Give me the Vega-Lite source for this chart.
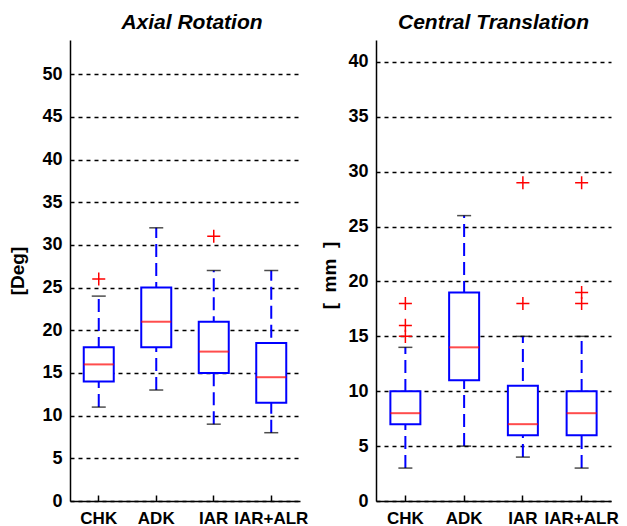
{
  "$schema": "https://vega.github.io/schema/vega-lite/v6.json",
  "background": "white",
  "padding": {"left": 8, "top": 12, "right": 5, "bottom": 2},
  "spacing": 12,
  "config": {
    "view": {"stroke": null},
    "axis": {"domainColor": "black", "domainWidth": 1.5, "tickColor": "black", "labelColor": "black", "titleColor": "black"},
    "title": {"font": "Liberation Sans", "fontSize": 21, "fontStyle": "italic", "fontWeight": "bold", "color": "black", "offset": 7}
  },
  "datasets": {
    "axial": [
      {"g": "CHK", "lo": 11, "q1": 14, "med": 16, "q3": 18, "hi": 24},
      {"g": "ADK", "lo": 13, "q1": 18, "med": 21, "q3": 25, "hi": 32},
      {"g": "IAR", "lo": 9, "q1": 15, "med": 17.5, "q3": 21, "hi": 27},
      {"g": "IAR+ALR", "lo": 8, "q1": 11.5, "med": 14.5, "q3": 18.5, "hi": 27}
    ],
    "axialOut": [
      {"g": "CHK", "v": 26},
      {"g": "IAR", "v": 31}
    ],
    "central": [
      {"g": "CHK", "lo": 3, "q1": 7, "med": 8, "q3": 10, "hi": 14},
      {"g": "ADK", "lo": 5, "q1": 11, "med": 14, "q3": 19, "hi": 26},
      {"g": "IAR", "lo": 4, "q1": 6, "med": 7, "q3": 10.5, "hi": 15},
      {"g": "IAR+ALR", "lo": 3, "q1": 6, "med": 8, "q3": 10, "hi": 15}
    ],
    "centralOut": [
      {"g": "CHK", "v": 15},
      {"g": "CHK", "v": 16},
      {"g": "CHK", "v": 18},
      {"g": "IAR", "v": 18},
      {"g": "IAR", "v": 29},
      {"g": "IAR+ALR", "v": 18},
      {"g": "IAR+ALR", "v": 19},
      {"g": "IAR+ALR", "v": 29}
    ]
  },
  "hconcat": [
    {
      "width": 230,
      "height": 461,
      "title": {"text": "Axial Rotation", "dx": 7},
      "data": {"name": "axial"},
      "encoding": {
        "x": {"field": "g", "type": "nominal", "sort": ["CHK", "ADK", "IAR", "IAR+ALR"], "title": null,
          "scale": {"paddingInner": 0, "paddingOuter": 0},
          "axis": {"labelAngle": 0, "labelFont": "Liberation Sans", "labelFontSize": 17, "labelFontWeight": "bold", "tickSize": -6, "tickWidth": 1.5, "labelPadding": 15}}
      },
      "layer": [
        {
          "mark": {"type": "rule", "color": "blue", "strokeWidth": 2, "strokeDash": [13, 6]},
          "encoding": {
            "y": {"field": "lo", "type": "quantitative", "title": "[Deg]",
              "scale": {"domain": [0, 54], "nice": false, "zero": false},
              "axis": {"values": [0, 5, 10, 15, 20, 25, 30, 35, 40, 45, 50], "ticks": false, "grid": true, "gridColor": "black", "gridDash": [4, 4], "gridWidth": 1.3,
                "labelFont": "Liberation Sans", "labelFontSize": 18, "labelFontWeight": "bold", "labelPadding": 8,
                "titleFont": "Liberation Sans", "titleFontSize": 19, "titleFontWeight": "bold", "titlePadding": 14}},
            "y2": {"field": "hi"}
          }
        },
        {
          "mark": {"type": "bar", "fill": "white", "stroke": "blue", "strokeWidth": 2, "width": 30},
          "encoding": {"y": {"field": "q1", "type": "quantitative"}, "y2": {"field": "q3"}}
        },
        {
          "mark": {"type": "tick", "color": "red", "size": 30, "thickness": 2},
          "encoding": {"y": {"field": "med", "type": "quantitative"}}
        },
        {
          "mark": {"type": "tick", "color": "black", "size": 14, "thickness": 1.5},
          "encoding": {"y": {"field": "lo", "type": "quantitative"}}
        },
        {
          "mark": {"type": "tick", "color": "black", "size": 14, "thickness": 1.5},
          "encoding": {"y": {"field": "hi", "type": "quantitative"}}
        },
        {
          "data": {"name": "axialOut"},
          "mark": {"type": "point", "shape": "M-1,0H1M0,-1V1", "filled": false, "stroke": "red", "strokeWidth": 1.5, "size": 170, "opacity": 1},
          "encoding": {"y": {"field": "v", "type": "quantitative"}}
        }
      ]
    },
    {
      "width": 235,
      "height": 461,
      "title": {"text": "Central Translation"},
      "data": {"name": "central"},
      "encoding": {
        "x": {"field": "g", "type": "nominal", "sort": ["CHK", "ADK", "IAR", "IAR+ALR"], "title": null,
          "scale": {"paddingInner": 0, "paddingOuter": 0},
          "axis": {"labelAngle": 0, "labelFont": "Liberation Sans", "labelFontSize": 17, "labelFontWeight": "bold", "tickSize": -6, "tickWidth": 1.5, "labelPadding": 15}}
      },
      "layer": [
        {
          "mark": {"type": "rule", "color": "blue", "strokeWidth": 2, "strokeDash": [13, 6]},
          "encoding": {
            "y": {"field": "lo", "type": "quantitative", "title": "[\u00a0\u00a0mm\u00a0\u00a0]",
              "scale": {"domain": [0, 42], "nice": false, "zero": false},
              "axis": {"values": [0, 5, 10, 15, 20, 25, 30, 35, 40], "ticks": false, "grid": true, "gridColor": "black", "gridDash": [4, 4], "gridWidth": 1.3,
                "labelFont": "Liberation Sans", "labelFontSize": 18, "labelFontWeight": "bold", "labelPadding": 8,
                "titleFont": "Liberation Sans", "titleFontSize": 19, "titleFontWeight": "bold", "titlePadding": 8, "titleY": 235}},
            "y2": {"field": "hi"}
          }
        },
        {
          "mark": {"type": "bar", "fill": "white", "stroke": "blue", "strokeWidth": 2, "width": 30},
          "encoding": {"y": {"field": "q1", "type": "quantitative"}, "y2": {"field": "q3"}}
        },
        {
          "mark": {"type": "tick", "color": "red", "size": 30, "thickness": 2},
          "encoding": {"y": {"field": "med", "type": "quantitative"}}
        },
        {
          "mark": {"type": "tick", "color": "black", "size": 14, "thickness": 1.5},
          "encoding": {"y": {"field": "lo", "type": "quantitative"}}
        },
        {
          "mark": {"type": "tick", "color": "black", "size": 14, "thickness": 1.5},
          "encoding": {"y": {"field": "hi", "type": "quantitative"}}
        },
        {
          "data": {"name": "centralOut"},
          "mark": {"type": "point", "shape": "M-1,0H1M0,-1V1", "filled": false, "stroke": "red", "strokeWidth": 1.5, "size": 170, "opacity": 1},
          "encoding": {"y": {"field": "v", "type": "quantitative"}}
        }
      ]
    }
  ]
}
